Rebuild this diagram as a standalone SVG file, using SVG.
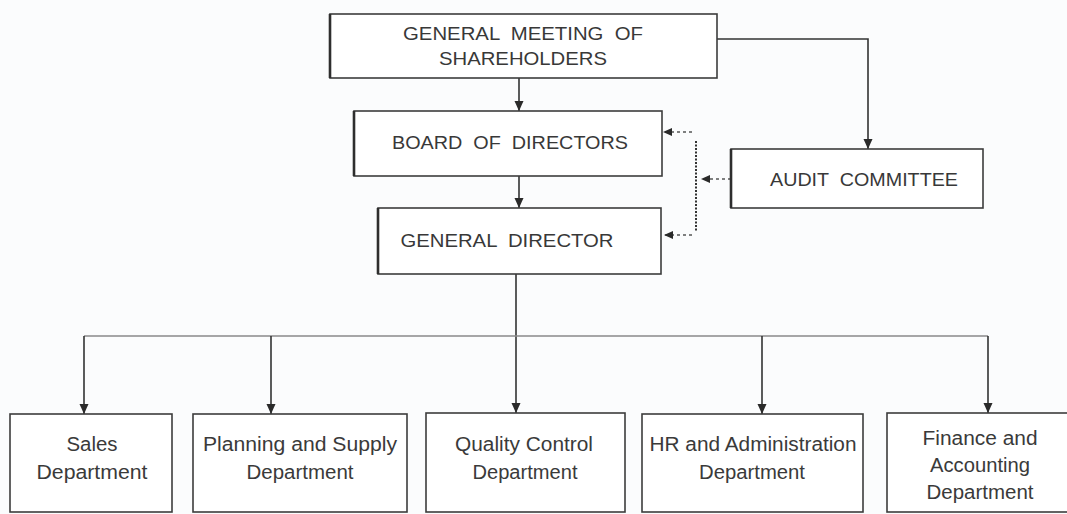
<svg xmlns="http://www.w3.org/2000/svg" width="1067" height="514" viewBox="0 0 1067 514">
  <style>
    .box { fill: #ffffff; stroke: #3c3c3c; stroke-width: 1.6; }
    .edge { stroke: #2e2e2e; stroke-width: 2.6; }
    .hdr { font-family: "Liberation Sans", Arial, sans-serif; font-size: 18px; fill: #383838; text-anchor: middle; white-space: pre; }
    .dept { font-family: "Liberation Sans", Arial, sans-serif; font-size: 20px; fill: #3a3a3a; text-anchor: middle; }
    .link { fill: none; stroke: #333333; stroke-width: 1.6; }
    .bus { fill: none; stroke: #8a8a8a; stroke-width: 1.6; }
    .dash { fill: none; stroke: #555555; stroke-width: 1.6; stroke-dasharray: 3 3; }
    .dot { fill: none; stroke: #333333; stroke-width: 2; stroke-dasharray: 2 1.5; }
  </style>
  <defs>
    <marker id="arrow" markerUnits="userSpaceOnUse" markerWidth="10" markerHeight="10" refX="10" refY="5" orient="auto">
      <path d="M0,0.5 L10,5 L0,9.5 z" fill="#2a2a2a"/>
    </marker>
    <marker id="arrowSmall" markerUnits="userSpaceOnUse" markerWidth="9" markerHeight="9" refX="9" refY="4.5" orient="auto">
      <path d="M0,0.5 L9,4.5 L0,8.5 z" fill="#2a2a2a"/>
    </marker>
  </defs>

  <rect width="1067" height="514" fill="#fbfcfd"/>

  <!-- connectors -->
  <g id="connectors">
    <line class="link" x1="519" y1="78" x2="519" y2="111" marker-end="url(#arrow)"/>
    <line class="link" x1="519" y1="176" x2="519" y2="208" marker-end="url(#arrow)"/>
    <polyline class="link" points="717,39 868,39 868,149" marker-end="url(#arrow)"/>
    <line class="link" x1="516" y1="274" x2="516" y2="413" marker-end="url(#arrow)"/>
    <!-- department bus -->
    <line class="bus" x1="84" y1="336" x2="988" y2="336"/>
    <line class="link" x1="84" y1="336" x2="84" y2="414" marker-end="url(#arrow)"/>
    <line class="link" x1="271" y1="336" x2="271" y2="414" marker-end="url(#arrow)"/>
    <line class="link" x1="762" y1="336" x2="762" y2="414" marker-end="url(#arrow)"/>
    <line class="link" x1="988" y1="336" x2="988" y2="413" marker-end="url(#arrow)"/>
    <!-- audit reporting lines -->
    <line class="dot" x1="696" y1="141" x2="696" y2="231"/>
    <line class="dash" x1="731" y1="179" x2="701" y2="179" marker-end="url(#arrowSmall)"/>
    <line class="dash" x1="692" y1="132" x2="663" y2="132" marker-end="url(#arrowSmall)"/>
    <line class="dash" x1="692" y1="235" x2="664" y2="235" marker-end="url(#arrowSmall)"/>
  </g>

  <g id="general-meeting">
    <rect class="box" x="330" y="14" width="387" height="64"/>
    <line class="edge" x1="330" y1="14" x2="330" y2="78"/>
    <text class="hdr" xml:space="preserve" x="523" y="40" textLength="240" lengthAdjust="spacingAndGlyphs">GENERAL  MEETING  OF</text>
    <text class="hdr" x="523" y="65" textLength="168" lengthAdjust="spacingAndGlyphs">SHAREHOLDERS</text>
  </g>

  <g id="board">
    <rect class="box" x="354" y="111" width="308" height="65"/>
    <line class="edge" x1="354" y1="111" x2="354" y2="176"/>
    <text class="hdr" xml:space="preserve" x="510" y="149" textLength="236" lengthAdjust="spacingAndGlyphs">BOARD  OF  DIRECTORS</text>
  </g>

  <g id="general-director">
    <rect class="box" x="378" y="208" width="283" height="66"/>
    <line class="edge" x1="378" y1="208" x2="378" y2="274"/>
    <text class="hdr" xml:space="preserve" x="507" y="247" textLength="213" lengthAdjust="spacingAndGlyphs">GENERAL  DIRECTOR</text>
  </g>

  <g id="audit-committee">
    <rect class="box" x="731" y="149" width="252" height="59"/>
    <line class="edge" x1="731" y1="149" x2="731" y2="208"/>
    <text class="hdr" xml:space="preserve" x="864" y="186" textLength="188" lengthAdjust="spacingAndGlyphs">AUDIT  COMMITTEE</text>
  </g>

  <g id="sales">
    <rect class="box" x="10" y="414" width="162" height="98"/>
    <text class="dept" x="92" y="451" textLength="51" lengthAdjust="spacingAndGlyphs">Sales</text>
    <text class="dept" x="92" y="479" textLength="111" lengthAdjust="spacingAndGlyphs">Department</text>
  </g>

  <g id="planning-supply">
    <rect class="box" x="193" y="414" width="214" height="98"/>
    <text class="dept" x="300" y="451" textLength="194" lengthAdjust="spacingAndGlyphs">Planning and Supply</text>
    <text class="dept" x="300" y="479" textLength="107" lengthAdjust="spacingAndGlyphs">Department</text>
  </g>

  <g id="quality-control">
    <rect class="box" x="426" y="413" width="199" height="99"/>
    <text class="dept" x="524" y="451" textLength="138" lengthAdjust="spacingAndGlyphs">Quality Control</text>
    <text class="dept" x="525" y="479" textLength="105" lengthAdjust="spacingAndGlyphs">Department</text>
  </g>

  <g id="hr-administration">
    <rect class="box" x="642" y="414" width="221" height="98"/>
    <text class="dept" x="753" y="451" textLength="207" lengthAdjust="spacingAndGlyphs">HR and Administration</text>
    <text class="dept" x="752" y="479" textLength="106" lengthAdjust="spacingAndGlyphs">Department</text>
  </g>

  <g id="finance-accounting">
    <rect class="box" x="887" y="413" width="190" height="99"/>
    <text class="dept" x="980" y="445" textLength="115" lengthAdjust="spacingAndGlyphs">Finance and</text>
    <text class="dept" x="980" y="472" textLength="100" lengthAdjust="spacingAndGlyphs">Accounting</text>
    <text class="dept" x="980" y="499" textLength="107" lengthAdjust="spacingAndGlyphs">Department</text>
  </g>
</svg>
